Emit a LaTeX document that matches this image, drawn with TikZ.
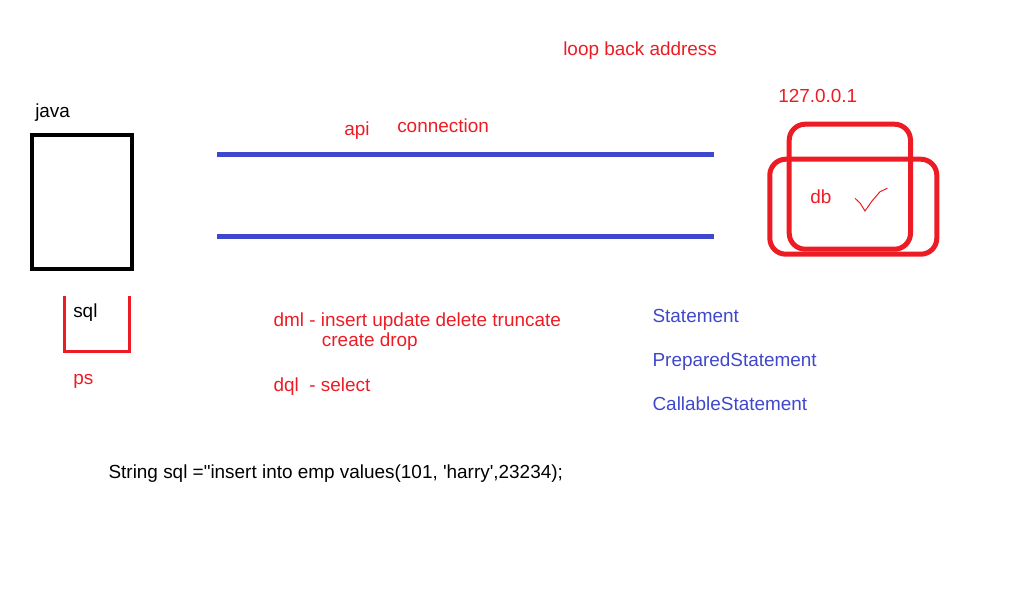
\documentclass[tikz,border=0pt]{standalone}
\usepackage{fontspec}
\setmainfont{Liberation Sans}[Ligatures=TeXOff]
\usetikzlibrary{positioning}
\definecolor{paintred}{RGB}{237,28,36}
\definecolor{paintblue}{RGB}{63,72,204}
\tikzset{txt/.style={inner sep=0pt,anchor=base west,font=\fontsize{14.2}{17}\selectfont},
  redtxt/.style={txt,text=paintred},
  bluetxt/.style={txt,text=paintblue},
  wire/.style={paintblue,line width=3.75pt},
  dbbox/.style={draw=paintred,line width=3.75pt,rounded corners=12pt} }

\begin{document}
\begin{tikzpicture}[x=0.75pt,y=-0.75pt]
    \useasboundingbox (0,0) rectangle (1018,611);
    % java side
    \node[draw,line width=3.5pt,minimum width=75pt,minimum height=100.5pt] (app) at (82,202) {};
    \node[txt] (java) at (35,117.5) {java};
    \draw[paintred,line width=2.25pt] (64.7,296) |- (129.3,351.7) -- (129.3,296);
    \node[txt] (sql) at (73,317) {sql};
    \node[redtxt] (ps) at (73,384) {ps};
    % the two wires
    \coordinate (w1a) at (217,154); \coordinate (w1b) at (714,154);
    \coordinate (w2a) at (217,236); \coordinate (w2b) at (714,236);
    \draw[wire] (w1a) -- (w1b);
    \draw[wire] (w2a) -- (w2b);
    \node[redtxt] (api) at (344,135) {api};
    \node[redtxt] (conn) at (397,132.5) {connection};
    \node[redtxt] (loop) at (563,55) {loop back address};
    % database
    \node[redtxt] (ip) at (778,102.7) {127.0.0.1};
    \draw[dbbox] (789.2,124.2) rectangle (910.5,249.2);
    \draw[dbbox] (769.8,159.2) rectangle (936.8,254.2);
    \node[redtxt] (db) at (810,203.5) {db};
    \draw[paintred,line width=0.75pt] (855,198.3) -- (860,203) -- (865,211) -- (872,201) -- (880,191.7) -- (887.3,188.3);
    % sql kinds
    \node[redtxt] (dml) at (273.3,326) {dml - insert update delete truncate};
    \node[redtxt] (dml2) at (321.7,346.5) {create drop};
    \node[redtxt] (dql) at (273.3,391.7) {dql\ \ - select};
    \node[bluetxt] (stmt) at (652.3,322.5) {Statement};
    \node[bluetxt,below=33pt of stmt.base west,anchor=base west] (pstmt) {PreparedStatement};
    \node[bluetxt,below=33pt of pstmt.base west,anchor=base west] (cstmt) {CallableStatement};
    \node[txt] (code) at (108.3,478.3) {String sql ="insert into emp values(101, 'harry',23234);};
\end{tikzpicture}
\end{document}
